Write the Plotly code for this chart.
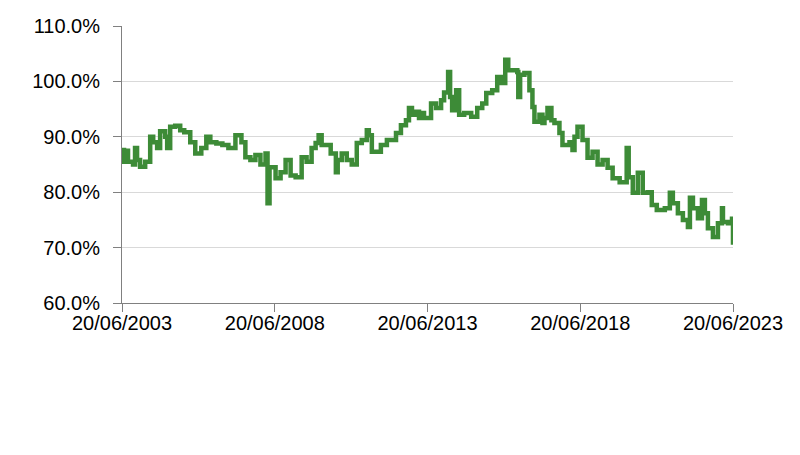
import plotly.graph_objects as go

dates = [
    "2003-06-20", "2003-07-14", "2003-08-07", "2003-08-31", "2003-10-30", "2003-11-23",
    "2003-12-17", "2004-01-22", "2004-03-23", "2004-05-22", "2004-06-27", "2004-08-13",
    "2004-09-18", "2004-11-17", "2004-12-11", "2005-01-16", "2005-03-17", "2005-05-16",
    "2005-07-03", "2005-09-13", "2005-11-12", "2006-01-23", "2006-03-24", "2006-05-11",
    "2006-07-22", "2006-10-02", "2006-12-13", "2007-03-07", "2007-05-18", "2007-07-04",
    "2007-09-02", "2007-11-01", "2007-12-31", "2008-03-01", "2008-03-25", "2008-04-18",
    "2008-06-29", "2008-08-28", "2008-10-27", "2008-12-26", "2009-02-24", "2009-05-07",
    "2009-07-05", "2009-09-03", "2009-10-21", "2009-11-26", "2010-01-01", "2010-04-19",
    "2010-06-20", "2010-07-12", "2010-08-29", "2010-10-28", "2010-12-27", "2011-02-25",
    "2011-04-26", "2011-06-25", "2011-07-19", "2011-08-24", "2011-12-10", "2012-02-20",
    "2012-06-08", "2012-08-06", "2012-10-05", "2012-11-10", "2012-12-16", "2013-02-02",
    "2013-03-10", "2013-04-15", "2013-05-09", "2013-08-01", "2013-09-30", "2013-11-29",
    "2014-01-04", "2014-02-21", "2014-03-17", "2014-04-10", "2014-05-28", "2014-07-03",
    "2014-09-01", "2014-11-24", "2015-02-04", "2015-04-05", "2015-05-23", "2015-08-02",
    "2015-10-01", "2015-11-18", "2016-01-05", "2016-02-10", "2016-05-28", "2016-06-09",
    "2016-07-01", "2016-08-21", "2016-10-20", "2016-11-25", "2016-12-19", "2017-02-17",
    "2017-03-25", "2017-04-18", "2017-05-24", "2017-07-10", "2017-08-15", "2017-10-14",
    "2017-11-19", "2018-02-11", "2018-03-19", "2018-04-12", "2018-05-18", "2018-07-17",
    "2018-09-15", "2018-11-14", "2019-01-13", "2019-03-14", "2019-05-13", "2019-07-12",
    "2019-10-04", "2019-12-27", "2020-01-20", "2020-03-09", "2020-05-08", "2020-07-06",
    "2020-09-04", "2020-10-22", "2020-12-21", "2021-03-27", "2021-05-26", "2021-07-01",
    "2021-08-30", "2021-10-29", "2021-12-28", "2022-01-21", "2022-02-26", "2022-04-27",
    "2022-06-14", "2022-07-19", "2022-08-24", "2022-10-23", "2022-12-22", "2023-02-08",
    "2023-02-20", "2023-04-21", "2023-06-08", "2023-06-20",
]
values = [
    87.6, 85.5, 87.5, 85.5, 85.0, 88.0,
    85.8, 84.6, 85.5, 90.0, 89.0, 88.0,
    91.0, 90.0, 88.0, 91.8, 92.0, 91.2,
    90.8, 89.0, 87.0, 88.0, 90.0, 89.0,
    88.8, 88.5, 88.0, 90.3, 89.0, 86.3,
    85.8, 86.7, 85.0, 87.0, 78.0, 84.5,
    82.5, 83.6, 85.8, 83.0, 82.7, 86.3,
    85.5, 88.0, 88.9, 90.3, 88.5, 87.0,
    83.6, 85.8, 87.0, 85.8, 85.0, 88.9,
    89.4, 91.2, 90.3, 87.3, 88.5, 89.4,
    90.7, 92.1, 93.0, 95.2, 94.0, 94.5,
    93.4, 94.3, 93.4, 96.0, 95.2, 96.6,
    98.0, 101.7, 97.2, 94.8, 98.4, 94.0,
    94.3, 93.6, 95.2, 96.0, 97.9, 98.4,
    100.8, 99.7, 103.9, 102.0, 101.7, 97.2,
    101.2, 101.5, 98.4, 95.4, 92.7, 94.0,
    92.5, 93.4, 95.2, 93.0, 92.5, 90.7,
    88.5, 89.0, 87.6, 90.0, 91.8, 89.4,
    86.2, 87.3, 85.0, 85.8, 84.4, 82.5,
    81.8, 88.0, 82.7, 79.9, 83.5, 79.9,
    80.0, 77.7, 76.8, 77.1, 79.9, 78.0,
    76.2, 75.0, 73.7, 79.0, 77.1, 75.3,
    78.6, 76.2, 73.5, 71.9, 74.4, 77.1,
    74.6, 74.4, 75.2, 70.5,
]

x_ticks = ["2003-06-20", "2008-06-20", "2013-06-20", "2018-06-20", "2023-06-20"]
y_ticks = [60, 70, 80, 90, 100, 110]

FONT = "Liberation Sans, Arial, sans-serif"

fig = go.Figure()
fig.add_trace(go.Scatter(x=dates, y=values, mode="lines", line_shape="hv",
                         line=dict(color="#3d8b37", width=4.5),
                         showlegend=False))

# the page body adds an 8px margin, so the figure is sized to fit inside it
fig.update_layout(
    width=792, height=447,
    margin=dict(l=114, r=67, t=18, b=152),
    plot_bgcolor="white", paper_bgcolor="white",
    font=dict(family=FONT, size=20, color="black"),
)
fig.update_xaxes(
    type="date", range=["2003-06-20", "2023-06-20"],
    tickvals=x_ticks, tickformat="%d/%m/%Y",
    showgrid=False, zeroline=False, automargin=False,
    showline=True, linecolor="#808080", linewidth=1,
    ticks="outside", ticklen=8, tickcolor="#808080",
    ticklabelstandoff=-6,
)
fig.update_yaxes(
    range=[60, 110], tickvals=y_ticks,
    ticktext=["{:.1f}%".format(v) for v in y_ticks],
    showgrid=True, gridcolor="#d9d9d9", gridwidth=1, zeroline=False,
    automargin=False,
    showline=True, linecolor="#808080", linewidth=1,
    ticks="outside", ticklen=8, tickcolor="#808080",
    ticklabelstandoff=9,
)

fig.write_html("out.html")
